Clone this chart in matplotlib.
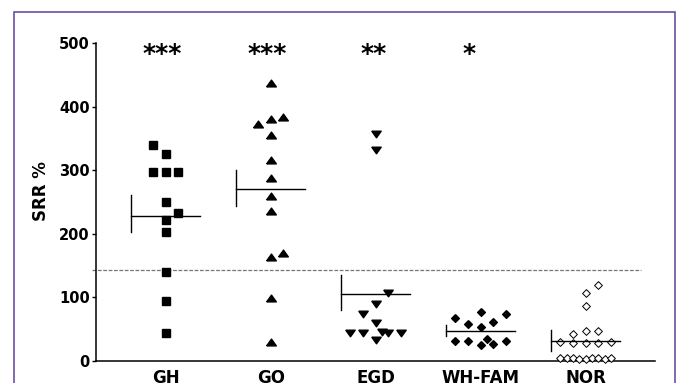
import matplotlib
matplotlib.use("Agg")
import matplotlib.pyplot as plt
from matplotlib.patches import Rectangle

# groups and read-off values (jitter = horizontal offset from group centre)
groups = ["GH", "GO", "EGD", "WH-FAM", "NOR"]

gh_vals = [340, 325.5, 297.5, 297.5, 297.5, 250.5, 233, 221.7, 202.8, 139.5, 94.3, 43.5]
gh_jit = [-0.12, 0, -0.12, 0, 0.12, 0, 0.12, 0, 0, 0, 0, 0]

go_vals = [436.6, 372.6, 380, 384.1, 355.3, 316, 287.3, 259.4, 236.3, 164, 169.3, 99.5, 30.4]
go_jit = [0, -0.12, 0, 0.12, 0, 0, 0, 0, 0, 0, 0.12, 0, 0]

egd_vals = [357, 332, 107.4, 89.1, 74.4, 60.2, 43.5, 43.5, 46, 43.5, 43.5, 33]
egd_jit = [0, 0, 0.12, 0, -0.12, 0, -0.24, -0.12, 0.06, 0.12, 0.24, 0]

wh_vals = [68.1, 57.7, 76.6, 54, 60.8, 73.4, 31.4, 31.4, 25.2, 34.1, 26.7, 31.4]
wh_jit = [-0.24, -0.12, 0, 0, 0.12, 0.24, -0.24, -0.12, 0, 0.06, 0.12, 0.24]

nor_vals = [119.5, 107.4, 87, 42.5, 47.7, 47.7, 30.4, 27.8, 27.8, 27.8, 30.4,
            4, 4, 4, 3, 3, 4, 4, 3, 4]
nor_jit = [0.12, 0, 0, -0.12, 0, 0.12, -0.24, -0.12, 0, 0.12, 0.24,
           -0.24, -0.18, -0.12, -0.06, 0, 0.06, 0.12, 0.18, 0.24]

# mean line and error bar ends as drawn
means = [228, 270.4, 105.8, 47.7, 31.4]
err_lo = [203, 243.7, 80.2, 39.3, 16.2]
err_hi = [261, 300.3, 135.2, 56.6, 48.7]

stars = ["***", "***", "**", "*"]
star_shift = [-0.03, -0.03, -0.02, -0.11]

cutoff = 143

tri_up = [(-1, -0.7), (1, -0.7), (0, 0.7), (-1, -0.7)]
tri_dn = [(-1, 0.7), (1, 0.7), (0, -0.7), (-1, 0.7)]
diamond = [(0, 1), (1, 0), (0, -1), (-1, 0), (0, 1)]

fig = plt.figure(figsize=(6.78, 3.83), dpi=100)
ax = fig.add_axes([95.7 / 678, 1 - 361 / 383, (655 - 95.7) / 678, 318 / 383])

series = [
    (gh_vals, gh_jit, dict(marker="s", ms=6, mfc="black", mec="black")),
    (go_vals, go_jit, dict(marker=tri_up, ms=7, mfc="black", mec="black")),
    (egd_vals, egd_jit, dict(marker=tri_dn, ms=6.8, mfc="black", mec="black")),
    (wh_vals, wh_jit, dict(marker=diamond, ms=5.6, mfc="black", mec="black")),
    (nor_vals, nor_jit, dict(marker=diamond, ms=5.6, mfc="white", mec="black", mew=0.7)),
]
for i, (vals, jit, style) in enumerate(series):
    xs = [i + 1 + j for j in jit]
    ax.plot(xs, vals, linestyle="none", clip_on=False, zorder=3, **style)

for i in range(len(groups)):
    x = i + 1
    ax.plot([x - 0.33, x + 0.33], [means[i], means[i]], color="black", lw=1.0, zorder=4)
    ax.plot([x - 0.33, x - 0.33], [err_lo[i], err_hi[i]], color="black", lw=1.0, zorder=4)

ax.plot([0.30, 5.53], [cutoff, cutoff], color="#777777", lw=0.9,
        linestyle=(0, (3, 1.3)), clip_on=False, zorder=2)

for i, s in enumerate(stars):
    ax.text(i + 1 + star_shift[i], 472, s, ha="center", va="baseline",
            fontsize=18, fontweight="bold")

ax.set_xlim(0.334, 5.66)
ax.set_ylim(0, 500)
ax.set_yticks([0, 100, 200, 300, 400, 500])
ax.set_xticks(range(1, len(groups) + 1))
ax.set_xticklabels(groups)
for sp in ["top", "right"]:
    ax.spines[sp].set_visible(False)
for sp in ["left", "bottom"]:
    ax.spines[sp].set_linewidth(1.1)
ax.tick_params(axis="y", length=2.7, width=1, pad=1.5, labelsize=10.5)
ax.tick_params(axis="x", length=0, pad=6, labelsize=12)
for lab in ax.get_xticklabels() + ax.get_yticklabels():
    lab.set_fontweight("bold")

fig.text(41 / 678, 1 - 191 / 383, "SRR %", rotation=90, ha="center", va="center",
         fontsize=12, fontweight="bold")

fig.patches.append(Rectangle((14 / 678, -0.1), (675 - 14) / 678, 1.1 - 11.7 / 383,
                             transform=fig.transFigure, fill=False,
                             edgecolor="#6b4fa0", lw=1.2))

fig.savefig("out.png", dpi=100)
